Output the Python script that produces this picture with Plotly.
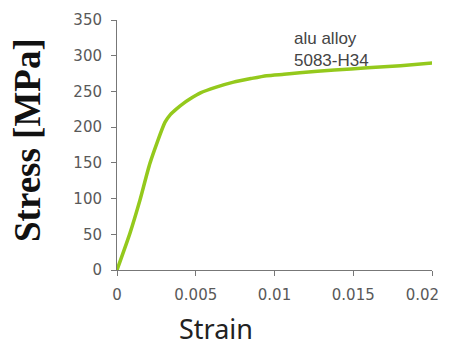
import plotly.graph_objects as go

strain = [0.0, 0.00083, 0.00146, 0.0021, 0.00305, 0.0034, 0.0038, 0.0042, 0.0046, 0.0053,
          0.0063, 0.0074, 0.0085, 0.0095, 0.0106, 0.0116, 0.0138, 0.0159, 0.018, 0.0201]
stress = [0.0, 52, 98, 150, 207, 218, 226, 233, 239, 248,
          256, 263, 268, 272, 274, 276, 280, 283, 286, 290]

x_ticks = [0, 0.005, 0.01, 0.015, 0.02]
x_labels = ["0", "0.005", "0.01", "0.015", "0.02\u00a0\u00a0\u00a0\u00a0"]
y_ticks = [0, 50, 100, 150, 200, 250, 300, 350]

fig = go.Figure()
fig.add_trace(go.Scatter(x=strain, y=stress, mode="lines",
                         line=dict(color="#94c91c", width=3.5, shape="spline", smoothing=0.6),
                         showlegend=False, hoverinfo="skip", cliponaxis=False))

axis_font = dict(family="DejaVu Sans, Liberation Sans", size=15, color="#595959")
fig.update_xaxes(range=[0, 0.02], tickvals=x_ticks, ticktext=x_labels,
                 showline=True, linecolor="#777777", linewidth=1,
                 ticks="outside", ticklen=5, tickcolor="#777777",
                 showgrid=False, zeroline=False, tickfont=axis_font,
                 ticklabelstandoff=6, automargin=False, ticklabeloverflow="allow")
fig.update_yaxes(range=[0, 350], tickvals=y_ticks,
                 showline=True, linecolor="#777777", linewidth=1,
                 ticks="outside", ticklen=5, tickcolor="#777777",
                 showgrid=False, zeroline=False, tickfont=axis_font,
                 ticklabelstandoff=6, automargin=False)

fig.add_annotation(text="alu alloy<br>5083-H34", xref="paper", yref="paper",
                   x=(292 - 117) / 315, y=(270 - 27) / 250, xanchor="left", yanchor="top",
                   showarrow=False, align="left",
                   font=dict(family="Liberation Sans, Arial", size=17, color="#444444"))
fig.add_annotation(text="<b>Stress [MPa]</b>", xref="paper", yref="paper",
                   x=(27 - 117) / 315, y=(270 - 140) / 250, xanchor="center", yanchor="middle",
                   textangle=-90, showarrow=False,
                   font=dict(family="Liberation Serif, DejaVu Serif", size=37, color="#111111"))
fig.add_annotation(text="Strain", xref="paper", yref="paper",
                   x=(216 - 117) / 315, y=-(328 - 270) / 250, xanchor="center", yanchor="middle",
                   showarrow=False,
                   font=dict(family="Noto Sans, Open Sans", size=27, color="#222222"))

fig.update_layout(width=444, height=339, margin=dict(l=109, r=20, t=12, b=77),
                  plot_bgcolor="white", paper_bgcolor="white")
fig.write_html("out.html")
